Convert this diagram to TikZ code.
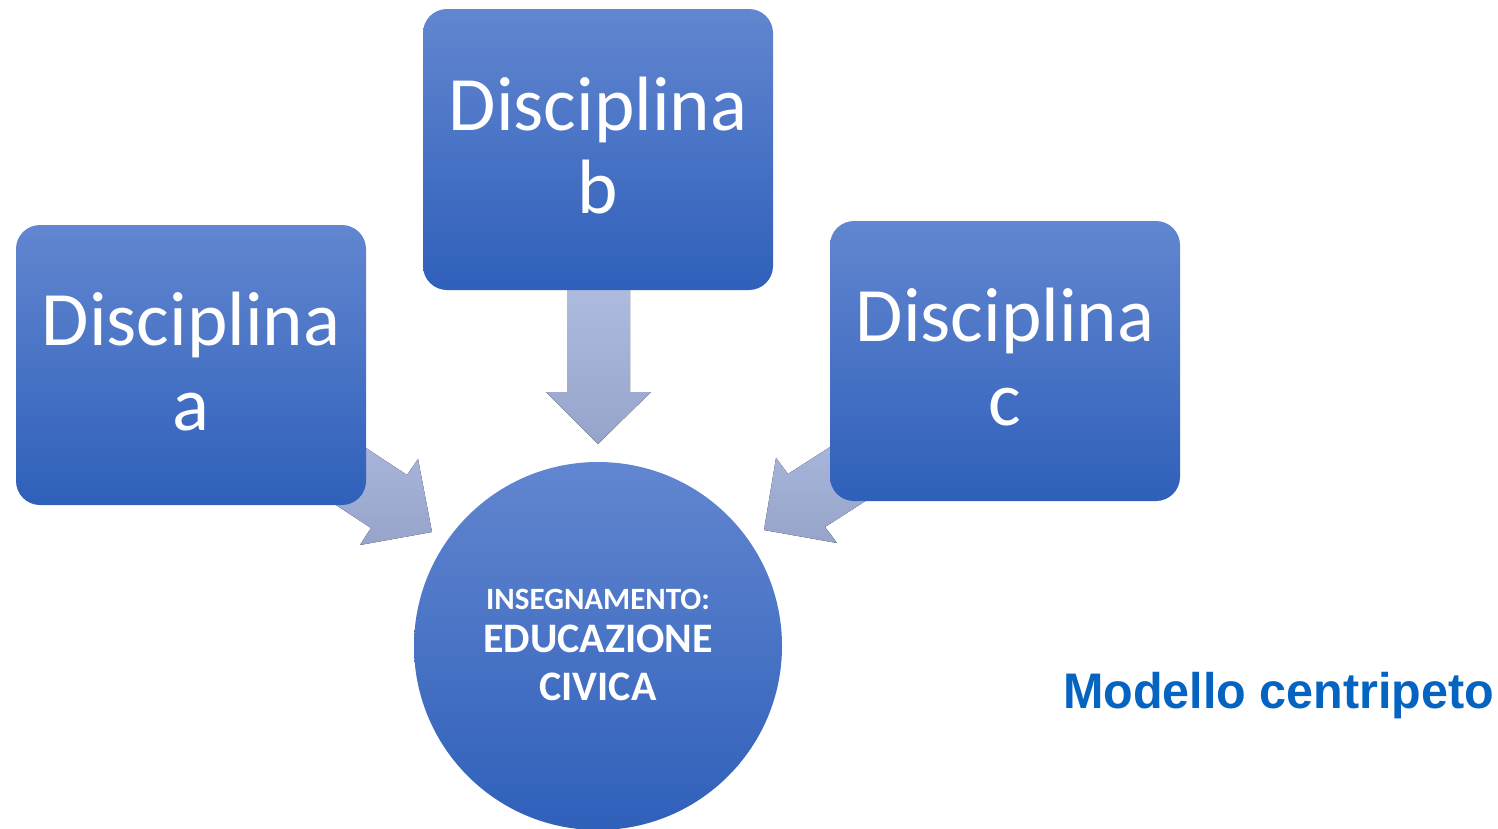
\documentclass[tikz,border=0pt]{standalone}
\usepackage{fontspec}
\setmainfont{Carlito}
\newfontfamily\titlefont{Liberation Sans}
\definecolor{boxtop}{RGB}{98,134,208}
\definecolor{boxbot}{RGB}{47,96,186}
\definecolor{arrtop}{RGB}{176,190,226}
\definecolor{arrbot}{RGB}{150,164,202}
\definecolor{titleblue}{RGB}{5,99,193}
\begin{document}
\begin{tikzpicture}[x=1pt,y=-1pt,
  discbox/.style={rounded corners=24pt, top color=boxtop, bottom color=boxbot, draw=none},
  blockarrow/.style={top color=arrtop, bottom color=arrbot, draw=none},
  disctxt/.style={anchor=base, text=white, font=\fontsize{77}{85}\selectfont, inner sep=0pt},
  circtxt/.style={anchor=base, text=white, inner sep=0pt}]
\useasboundingbox (0,0) rectangle (1498,828);
% block arrows
\fill[blockarrow] (567,270) -- (567,392) -- (546,392) -- (598,444) -- (651,392) -- (630,392) -- (630,270) -- cycle;
\fill[blockarrow] (284,394) -- (407,475) -- (418,459) -- (432,532) -- (360,545) -- (371,528) -- (289,474) -- cycle;
\fill[blockarrow] (914,393) -- (788,474) -- (776,458) -- (764,530) -- (837,543) -- (825,527) -- (909,473) -- cycle;
% boxes
\node[discbox, minimum width=350pt, minimum height=280pt] (boxa) at (191,365) {};
\node[discbox, minimum width=350pt, minimum height=281pt] (boxb) at (598,149.5) {};
\node[discbox, minimum width=350pt, minimum height=280pt] (boxc) at (1005,361) {};
\node[disctxt] (ta1) at (191,345) {Disciplina};
\node[disctxt] (ta2) at (191,430) {a};
\node[disctxt] (tb1) at (598,130) {Disciplina};
\node[disctxt] (tb2) at (598,213) {b};
\node[disctxt] (tc1) at (1005,341) {Disciplina};
\node[disctxt] (tc2) at (1005,425) {c};
% circle
\node[circle, minimum size=368pt, inner sep=0pt, top color=boxtop, bottom color=boxbot, draw=none] (edu) at (598,646) {};
\node[circtxt, font=\bfseries\fontsize{31}{36}\selectfont] (e1) at (598,609) {INSEGNAMENTO:};
\node[circtxt, font=\bfseries\fontsize{42}{48}\selectfont] (e2) at (598,652) {EDUCAZIONE};
\node[circtxt, font=\bfseries\fontsize{42}{48}\selectfont] (e3) at (598,700) {CIVICA};
% title
\node[anchor=base west, inner sep=0pt, text=titleblue] (title) at (1063,708) {\scalebox{0.97}[1]{\titlefont\bfseries\fontsize{50}{60}\selectfont Modello centripeto}};
\end{tikzpicture}
\end{document}
